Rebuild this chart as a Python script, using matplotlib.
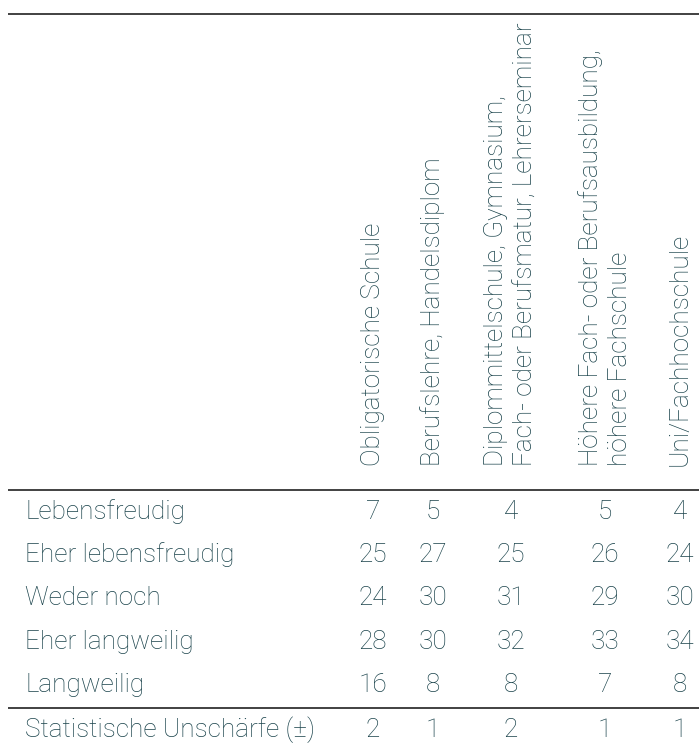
import matplotlib.pyplot as plt

plt.rcParams['font.family'] = ['Roboto', 'DejaVu Sans']

# table content
columns = ["Obligatorische Schule",
           "Berufslehre, Handelsdiplom",
           "Diplommittelschule, Gymnasium,\nFach- oder Berufsmatur, Lehrerseminar",
           "Höhere Fach- oder Berufsausbildung,\nhöhere Fachschule",
           "Uni/Fachhochschule"]
rows = ["Lebensfreudig", "Eher lebensfreudig", "Weder noch",
        "Eher langweilig", "Langweilig"]
values = [[7, 5, 4, 5, 4],
          [25, 27, 25, 26, 24],
          [24, 30, 31, 29, 30],
          [28, 30, 32, 33, 34],
          [16, 8, 8, 7, 8]]
error_label = "Statistische Unschärfe (\u00b1)"
errors = [2, 1, 2, 1, 1]

col_x = [373, 433, 511, 605, 680]
row_y = [512, 555, 598, 642, 685]
err_y = 730
txt = '#1a434b'
fs = 18.8

fig = plt.figure(figsize=(6.99, 7.47), dpi=100)
ax = fig.add_axes([0, 0, 1, 1])
ax.set_xlim(0, 699)
ax.set_ylim(747, 0)
ax.axis('off')

# rules
for y in (14, 490, 708):
    ax.plot([8, 699], [y, y], color='#333333', lw=1.3, solid_capstyle='butt')

# column headers
for x, c in zip(col_x, columns):
    ax.text(x, 466, c, rotation=90, ha='center', va='bottom', color=txt,
            fontsize=fs, fontweight='light', linespacing=1.3,
            multialignment='left')

# body
for y, lab, vals in zip(row_y, rows, values):
    ax.text(25, y, lab, ha='left', va='center', color=txt,
            fontsize=fs, fontweight='light')
    for x, v in zip(col_x, vals):
        ax.text(x, y, str(v), ha='center', va='center', color=txt,
                fontsize=fs, fontweight='light')

ax.text(25, err_y, error_label, ha='left', va='center', color=txt,
        fontsize=fs, fontweight='light')
for x, v in zip(col_x, errors):
    ax.text(x, err_y, str(v), ha='center', va='center', color=txt,
            fontsize=fs, fontweight='light')

fig.savefig('out.png', dpi=100)
